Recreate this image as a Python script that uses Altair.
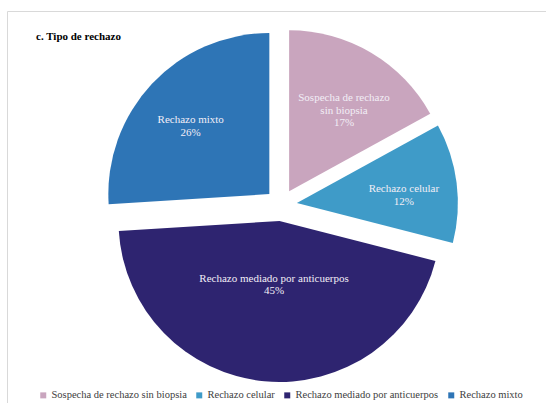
import altair as alt
import pandas as pd

categories = [
    "Sospecha de rechazo sin biopsia",
    "Rechazo celular",
    "Rechazo mediado por anticuerpos",
    "Rechazo mixto",
]
values = [17, 12, 45, 26]
label_text = [
    "Sospecha de rechazo|sin biopsia",
    "Rechazo celular",
    "Rechazo mediado por anticuerpos",
    "Rechazo mixto",
]
colors = ["#C9A5BE", "#3F9BC8", "#2E2470", "#2E75B6"]

CX, CY, R, EXPLODE = 281, 205, 161, 16
SERIF = "Times New Roman, Liberation Serif, serif"

df = pd.DataFrame({
    "categoria": categories,
    "valor": values,
    "etiqueta": label_text,
    "orden": list(range(len(categories))),
})

base = (
    alt.Chart(df)
    .transform_joinaggregate(total="sum(valor)")
    .transform_window(acum="sum(valor)", sort=[alt.SortField("orden")], frame=[None, 0])
    .transform_calculate(
        a0="2*PI*(datum.acum - datum.valor)/datum.total",
        a1="2*PI*datum.acum/datum.total",
        frac="datum.valor/datum.total",
    )
    .transform_calculate(am="(datum.a0 + datum.a1)/2")
    .transform_calculate(
        px=f"{CX} + {EXPLODE}*sin(datum.am)",
        py=f"{CY} - {EXPLODE}*cos(datum.am)",
        lr=f"datum.frac > 0.4 ? {R * 0.36} : {R * 0.67}",
    )
    .transform_calculate(
        lx="datum.px + datum.lr*sin(datum.am)",
        ly="datum.py - datum.lr*cos(datum.am)",
        texto="split(datum.etiqueta + '|' + format(datum.frac, '.0%'), '|')",
    )
)

arcs = base.mark_arc(radius=R).encode(
    x=alt.X("px:Q", scale=None, axis=None),
    y=alt.Y("py:Q", scale=None, axis=None),
    theta=alt.Theta("a0:Q", scale=None),
    theta2="a1:Q",
    color=alt.Color(
        "categoria:N",
        scale=alt.Scale(domain=categories, range=colors),
        sort=categories,
        legend=alt.Legend(
            title=None,
            orient="none",
            legendX=38,
            legendY=390,
            direction="horizontal",
            symbolType="square",
            symbolSize=36,
            symbolStrokeWidth=0,
            labelFont=SERIF,
            labelFontSize=10.5,
            labelColor="#404040",
            labelOffset=3,
            columnPadding=7,
            labelLimit=300,
        ),
    ),
)

labels = base.mark_text(
    font=SERIF,
    fontSize=11,
    color="#F2EEF6",
    lineHeight=12.5,
    align="center",
    baseline="middle",
).encode(
    x=alt.X("lx:Q", scale=None, axis=None),
    y=alt.Y("ly:Q", scale=None, axis=None),
    text="texto:N",
)

border = alt.Chart(alt.Data(values=[{}])).mark_rect(
    filled=False, stroke="#D9D9D9", strokeWidth=1
).encode(
    x=alt.value(7.5), y=alt.value(11.5), x2=alt.value(700), y2=alt.value(700)
)

chart = (
    alt.layer(border, arcs, labels)
    .properties(
        width=546,
        height=403,
        autosize=alt.AutoSizeParams(type="none"),
        padding=0,
        background="white",
        title=alt.TitleParams(
            "c. Tipo de rechazo",
            anchor="start",
            frame="group",
            font=SERIF,
            fontSize=11,
            fontWeight="bold",
            color="#000000",
            baseline="alphabetic",
            offset=0,
            dx=36,
            dy=51,
        ),
    )
    .configure_view(stroke=None)
)

chart.save("out.html", embed_options={"renderer": "svg", "actions": False})
